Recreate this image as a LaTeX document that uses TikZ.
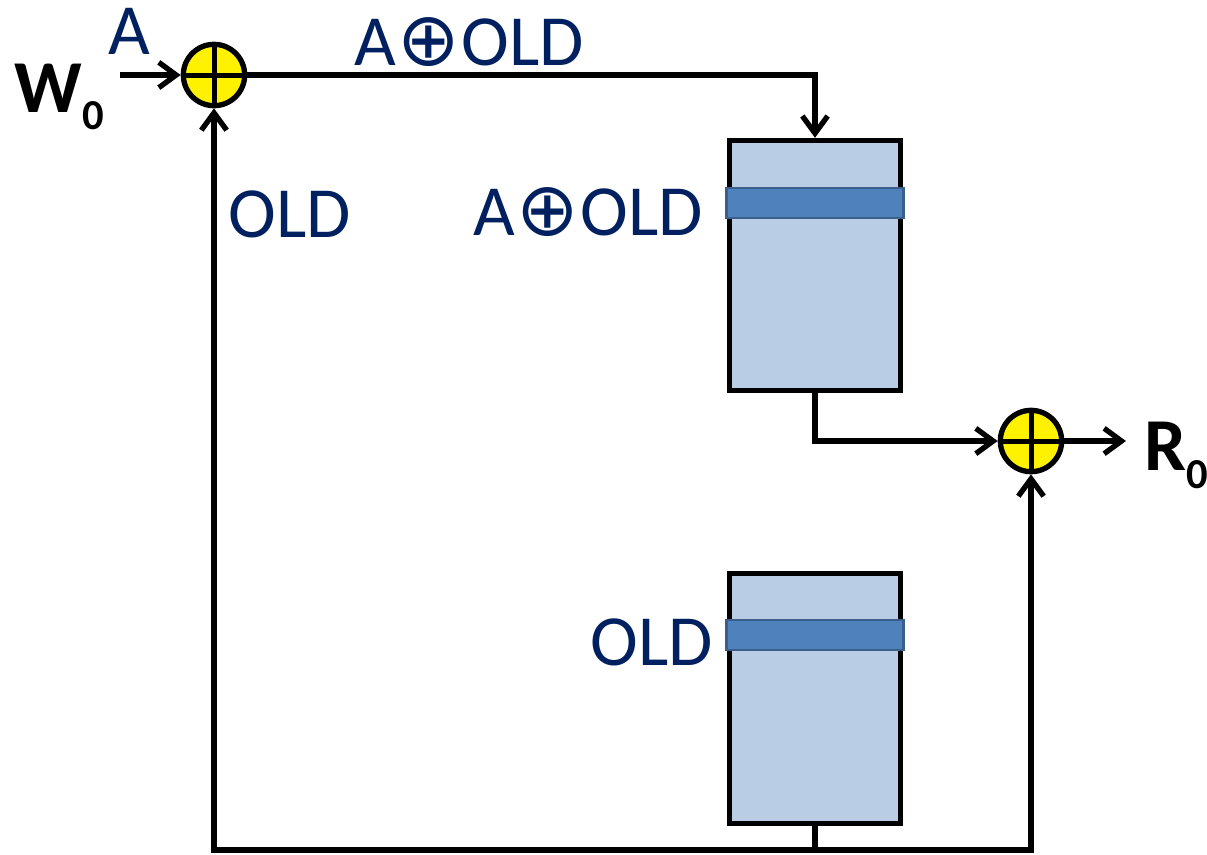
\documentclass[tikz,border=0pt]{standalone}
\usepackage{fontspec}
\setmainfont{Carlito}
\newfontfamily\symfont{DejaVu Sans}
\usetikzlibrary{arrows.meta}
\definecolor{navy}{HTML}{002060}
\definecolor{memfill}{HTML}{B9CDE5}
\definecolor{stripefill}{HTML}{4F81BD}
\definecolor{stripedraw}{HTML}{3A5F8B}
\begin{document}
\begin{tikzpicture}[x=0.75pt,y=-0.75pt,line width=4pt,
  lbl/.style={text=navy,font=\fontsize{54}{60}\selectfont,inner sep=0pt,anchor=base west},
  big/.style={text=black,font=\fontsize{56}{60}\selectfont\bfseries,inner sep=0pt,anchor=base west},
  arr/.style={-{Straight Barb[length=13pt,width=19pt]}},
  adder/.style={circle,draw=black,fill=yellow,minimum size=46pt,inner sep=0pt,
    path picture={\draw[line width=3.75pt] (path picture bounding box.north) -- (path picture bounding box.south)
      (path picture bounding box.west) -- (path picture bounding box.east);}},
  mem/.style={rectangle,draw=black,fill=memfill,minimum width=128pt,minimum height=187.5pt,inner sep=0pt},
  stripe/.style={rectangle,draw=stripedraw,fill=stripefill,line width=1.8pt,minimum width=133pt,minimum height=22.5pt,inner sep=0pt}
]
\useasboundingbox (0,0) rectangle (1207,854);
% adders
\node[adder] (s1) at (214,75) {};
\node[adder] (s2) at (1031,441) {};
% memories
\node[mem] (m1) at (815,265.5) {};
\node[stripe] (st1) at (815,203) {};
\node[mem] (m2) at (815,698.5) {};
\node[stripe] (st2) at (815,635) {};
% coordinates
\coordinate (win) at (120,75);
\coordinate (rout) at (1126,441);
\coordinate (bot) at (815,850);
% connectors
\draw[arr] (win) -- (s1.west);
\draw[arr] (s1.east) -| (m1.north);
\draw[arr] (m1.south) |- (s2.west);
\draw[arr] (s2.east) -- (rout);
\draw (m2.south) -- (bot);
\draw[arr] (bot) -| (s1.south);
\draw[arr] (bot) -| (s2.south);
% labels
\node[lbl] (la) at (106,54) {A};
\node[lbl] (lx1) at (352,65) {A\kern1pt{\symfont\fontsize{56}{60}\selectfont ⊕}\kern1pt OLD};
\node[lbl] (lold1) at (226,237) {OLD};
\node[lbl] (lx2) at (471,235) {A\kern1pt{\symfont\fontsize{56}{60}\selectfont ⊕}\kern1pt OLD};
\node[lbl] (lold2) at (588,665) {OLD};
\node[big] (w0) at (12,112) {W\raisebox{-13pt}{\fontsize{32}{36}\selectfont 0}};
\node[big] (r0) at (1142,470) {R\raisebox{-14pt}{\fontsize{32}{36}\selectfont 0}};
\end{tikzpicture}
\end{document}
